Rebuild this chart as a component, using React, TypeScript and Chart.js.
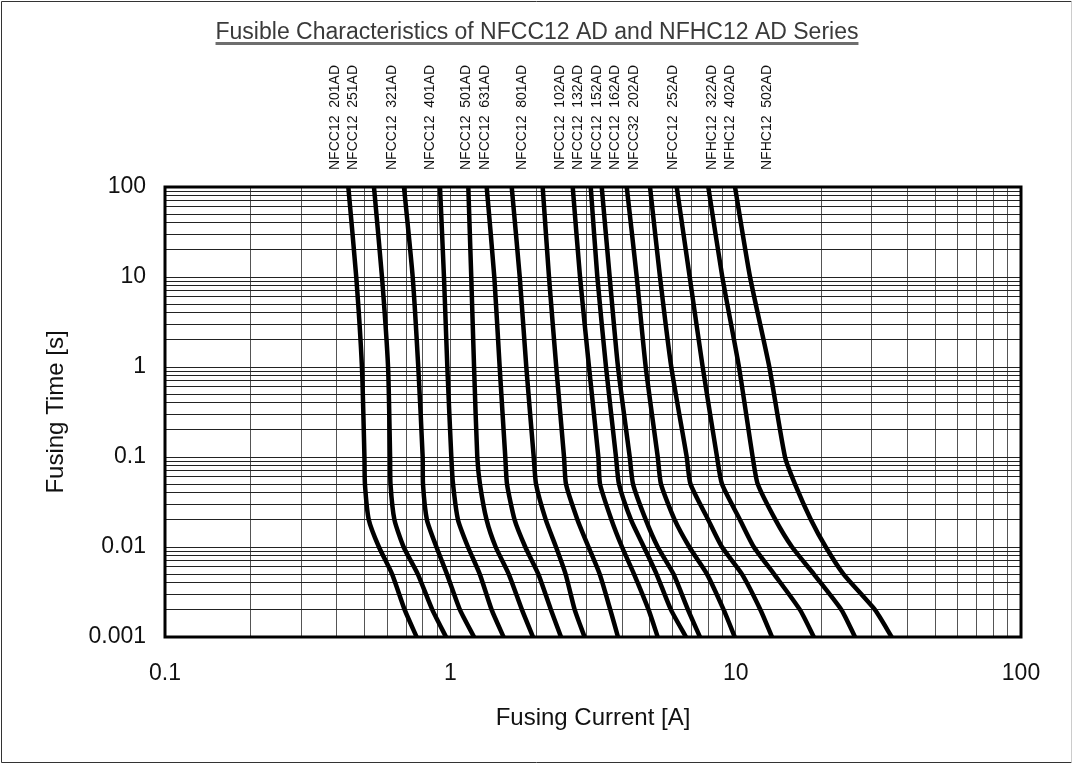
import React, { useEffect, useRef } from "react";
import { Chart, registerables } from "chart.js";

Chart.register(...registerables);

const FONT = "'Liberation Sans', Arial, Helvetica, sans-serif";

// Fusing time levels [s] shared by every curve (top to bottom)
const fusingTimes = [100, 10, 1, 0.1, 0.05, 0.02, 0.01, 0.005, 0.002, 0.001];

// Fusing current [A] of each curve at the levels above
const NFCC12_201AD = [0.439, 0.468, 0.49, 0.5, 0.502, 0.518, 0.562, 0.625, 0.692, 0.762];
const NFCC12_251AD = [0.54, 0.576, 0.605, 0.615, 0.617, 0.637, 0.686, 0.769, 0.865, 0.966];
const NFCC12_321AD = [0.688, 0.738, 0.772, 0.8, 0.802, 0.828, 0.894, 0.973, 1.081, 1.211];
const NFCC12_401AD = [0.92, 0.95, 0.976, 1.008, 1.022, 1.064, 1.153, 1.268, 1.396, 1.537];
const NFCC12_501AD = [1.156, 1.184, 1.211, 1.243, 1.27, 1.34, 1.442, 1.602, 1.783, 1.949];
const NFCC12_631AD = [1.341, 1.426, 1.489, 1.558, 1.58, 1.68, 1.831, 2.034, 2.253, 2.443];
const NFCC12_801AD = [1.641, 1.751, 1.846, 1.96, 1.997, 2.161, 2.346, 2.535, 2.729, 2.955];
const NFCC12_102AD = [2.107, 2.217, 2.351, 2.503, 2.543, 2.791, 3.05, 3.337, 3.637, 3.869];
const NFCC12_132AD = [2.685, 2.848, 3.062, 3.302, 3.347, 3.672, 3.997, 4.403, 4.954, 5.332];
const NFCC12_152AD = [3.105, 3.275, 3.512, 3.807, 3.9, 4.298, 4.769, 5.28, 5.934, 6.699];
const NFCC12_162AD = [3.393, 3.618, 3.869, 4.253, 4.368, 4.843, 5.332, 6.055, 6.808, 7.499];
const NFCC32_202AD = [4.152, 4.501, 4.839, 5.332, 5.474, 6.114, 6.879, 7.932, 9.081, 9.93];
const NFCC12_252AD = [5.01, 5.43, 5.948, 6.737, 6.946, 8.017, 8.956, 10.52, 12.22, 13.41];
const NFHC12_322AD = [6.214, 6.901, 7.663, 8.603, 8.956, 10.36, 11.58, 13.63, 16.81, 18.79];
const NFHC12_402AD = [8.017, 8.979, 10.27, 11.47, 11.95, 13.79, 15.76, 18.79, 23.49, 26.2];
const NFHC12_502AD = [9.947, 11.23, 13.12, 14.89, 16.14, 18.37, 20.69, 23.87, 30.79, 35.23];

const seriesNames = [
  "NFCC12  201AD",
  "NFCC12  251AD",
  "NFCC12  321AD",
  "NFCC12  401AD",
  "NFCC12  501AD",
  "NFCC12  631AD",
  "NFCC12  801AD",
  "NFCC12  102AD",
  "NFCC12  132AD",
  "NFCC12  152AD",
  "NFCC12  162AD",
  "NFCC32  202AD",
  "NFCC12  252AD",
  "NFHC12  322AD",
  "NFHC12  402AD",
  "NFHC12  502AD",
];

const seriesCurrents = [
  NFCC12_201AD, NFCC12_251AD, NFCC12_321AD, NFCC12_401AD,
  NFCC12_501AD, NFCC12_631AD, NFCC12_801AD, NFCC12_102AD,
  NFCC12_132AD, NFCC12_152AD, NFCC12_162AD, NFCC32_202AD,
  NFCC12_252AD, NFHC12_322AD, NFHC12_402AD, NFHC12_502AD,
];

// Current [A] at which each vertical series name is written above the plot
const labelCurrents = [0.394, 0.457, 0.623, 0.849, 1.135, 1.323, 1.779, 2.423, 2.809, 3.258, 3.777, 4.403, 6.045, 8.24, 9.555, 12.91];

const xMajorTicks = [0.1, 1, 10, 100];
const xTickLabels = ["0.1", "1", "10", "100"];
const yMajorTicks = [0.001, 0.01, 0.1, 1, 10, 100];
const yTickLabels = ["0.001", "0.01", "0.1", "1", "10", "100"];
const minorSteps = [1, 2, 3, 4, 5, 6, 7, 8, 9];

const chartTitle = "Fusible Characteristics of NFCC12 AD and NFHC12 AD Series";
const xTitle = "Fusing Current [A]";
const yTitle = "Fusing Time [s]";

function withMinors(majors: number[]) {
  const out: number[] = [];
  for (let i = 0; i < majors.length - 1; i++) {
    for (const s of minorSteps) out.push(majors[i] * s);
  }
  out.push(majors[majors.length - 1]);
  return out;
}

const decorPlugin = {
  id: "decor",
  beforeDraw(chart: any) {
    const { ctx, width, height } = chart;
    ctx.save();
    ctx.fillStyle = "#ffffff";
    ctx.fillRect(0, 0, width, height);
    ctx.restore();
  },
  afterDatasetsDraw(chart: any) {
    const { ctx, chartArea } = chart;
    ctx.save();
    ctx.strokeStyle = "#000";
    ctx.lineWidth = 3;
    ctx.strokeRect(chartArea.left, chartArea.top, chartArea.right - chartArea.left, chartArea.bottom - chartArea.top);
    ctx.restore();
  },
  afterDraw(chart: any) {
    const { ctx, width, height } = chart;
    const xs = chart.scales.x;
    ctx.save();
    // title with underline
    ctx.font = `23px ${FONT}`;
    ctx.fillStyle = "#3a3a3a";
    ctx.textAlign = "center";
    ctx.textBaseline = "alphabetic";
    const cx = 537;
    ctx.fillText(chartTitle, cx, 39);
    const w = ctx.measureText(chartTitle).width;
    ctx.strokeStyle = "#6e6e6e";
    ctx.lineWidth = 3;
    ctx.beginPath();
    ctx.moveTo(cx - w / 2, 43.5);
    ctx.lineTo(cx + w / 2, 43.5);
    ctx.stroke();

    // vertical series names
    ctx.font = `14px ${FONT}`;
    ctx.fillStyle = "#111";
    ctx.textAlign = "left";
    ctx.textBaseline = "middle";
    seriesNames.forEach((name, i) => {
      const x = xs.getPixelForValue(labelCurrents[i]);
      ctx.save();
      ctx.translate(x, 170);
      ctx.rotate(-Math.PI / 2);
      ctx.fillText(name, 0, 0);
      ctx.restore();
    });

    // frame around the picture
    ctx.lineWidth = 1;
    ctx.strokeStyle = "#333";
    ctx.beginPath();
    ctx.moveTo(1.5, height - 1.5);
    ctx.lineTo(1.5, 1.5);
    ctx.lineTo(width - 2.5, 1.5);
    ctx.moveTo(1.5, height - 1.5);
    ctx.lineTo(width - 2.5, height - 1.5);
    ctx.stroke();
    ctx.strokeStyle = "#ccc";
    ctx.beginPath();
    ctx.moveTo(width - 2.5, 1.5);
    ctx.lineTo(width - 2.5, height - 1.5);
    ctx.stroke();
    ctx.restore();
  },
};

export default function App() {
  const canvasRef = useRef<HTMLCanvasElement | null>(null);

  useEffect(() => {
    if (!canvasRef.current) return;
    const xTicks = withMinors(xMajorTicks);
    const yTicks = withMinors(yMajorTicks);

    const datasets = seriesCurrents.map((cur, i) => ({
      label: seriesNames[i],
      data: cur.map((c, j) => ({ x: c, y: fusingTimes[j] })),
      borderColor: "#000",
      backgroundColor: "#000",
      borderWidth: 4.5,
      pointRadius: 0,
      pointHoverRadius: 0,
      tension: 0.2,
      fill: false,
    }));

    const chart = new Chart(canvasRef.current, {
      type: "line",
      data: { datasets },
      plugins: [decorPlugin],
      options: {
        animation: false,
        responsive: false,
        devicePixelRatio: 1,
        events: [],
        layout: { padding: { top: 187, right: 53, bottom: 0, left: 0 } },
        plugins: {
          legend: { display: false },
          title: { display: false },
          tooltip: { enabled: false },
        },
        scales: {
          x: {
            type: "logarithmic",
            min: 0.1,
            max: 100,
            afterBuildTicks: (scale: any) => {
              scale.ticks = xTicks.map((v) => ({ value: v }));
            },
            afterFit: (scale: any) => {
              scale.height = 127;
            },
            ticks: {
              autoSkip: false,
              maxRotation: 0,
              padding: 23,
              color: "#111",
              font: { family: FONT, size: 23 },
              callback: (value: any) => {
                const k = xMajorTicks.indexOf(Number(value));
                return k >= 0 ? xTickLabels[k] : "";
              },
            },
            grid: { color: "#555", lineWidth: 1, drawTicks: false },
            border: { display: false },
            title: {
              display: true,
              text: xTitle,
              color: "#111",
              font: { family: FONT, size: 24 },
              padding: { top: 0, bottom: 31 },
            },
          },
          y: {
            type: "logarithmic",
            min: 0.001,
            max: 100,
            afterBuildTicks: (scale: any) => {
              scale.ticks = yTicks.map((v) => ({ value: v }));
            },
            afterFit: (scale: any) => {
              scale.width = 165;
            },
            ticks: {
              autoSkip: false,
              padding: 19,
              color: "#111",
              font: { family: FONT, size: 23 },
              callback: (value: any) => {
                const k = yMajorTicks.indexOf(Number(value));
                return k >= 0 ? yTickLabels[k] : "";
              },
            },
            grid: { color: "#222", lineWidth: 1, drawTicks: false },
            border: { display: false },
            title: {
              display: true,
              text: yTitle,
              color: "#111",
              font: { family: FONT, size: 24 },
              padding: { top: 42, bottom: 0 },
            },
          },
        },
      },
    } as any);

    return () => chart.destroy();
  }, []);

  return (
    <div style={{ position: "fixed", left: 0, top: 0, width: 1074, height: 764, background: "#fff" }}>
      <canvas ref={canvasRef} width={1074} height={764} style={{ display: "block" }} />
    </div>
  );
}
